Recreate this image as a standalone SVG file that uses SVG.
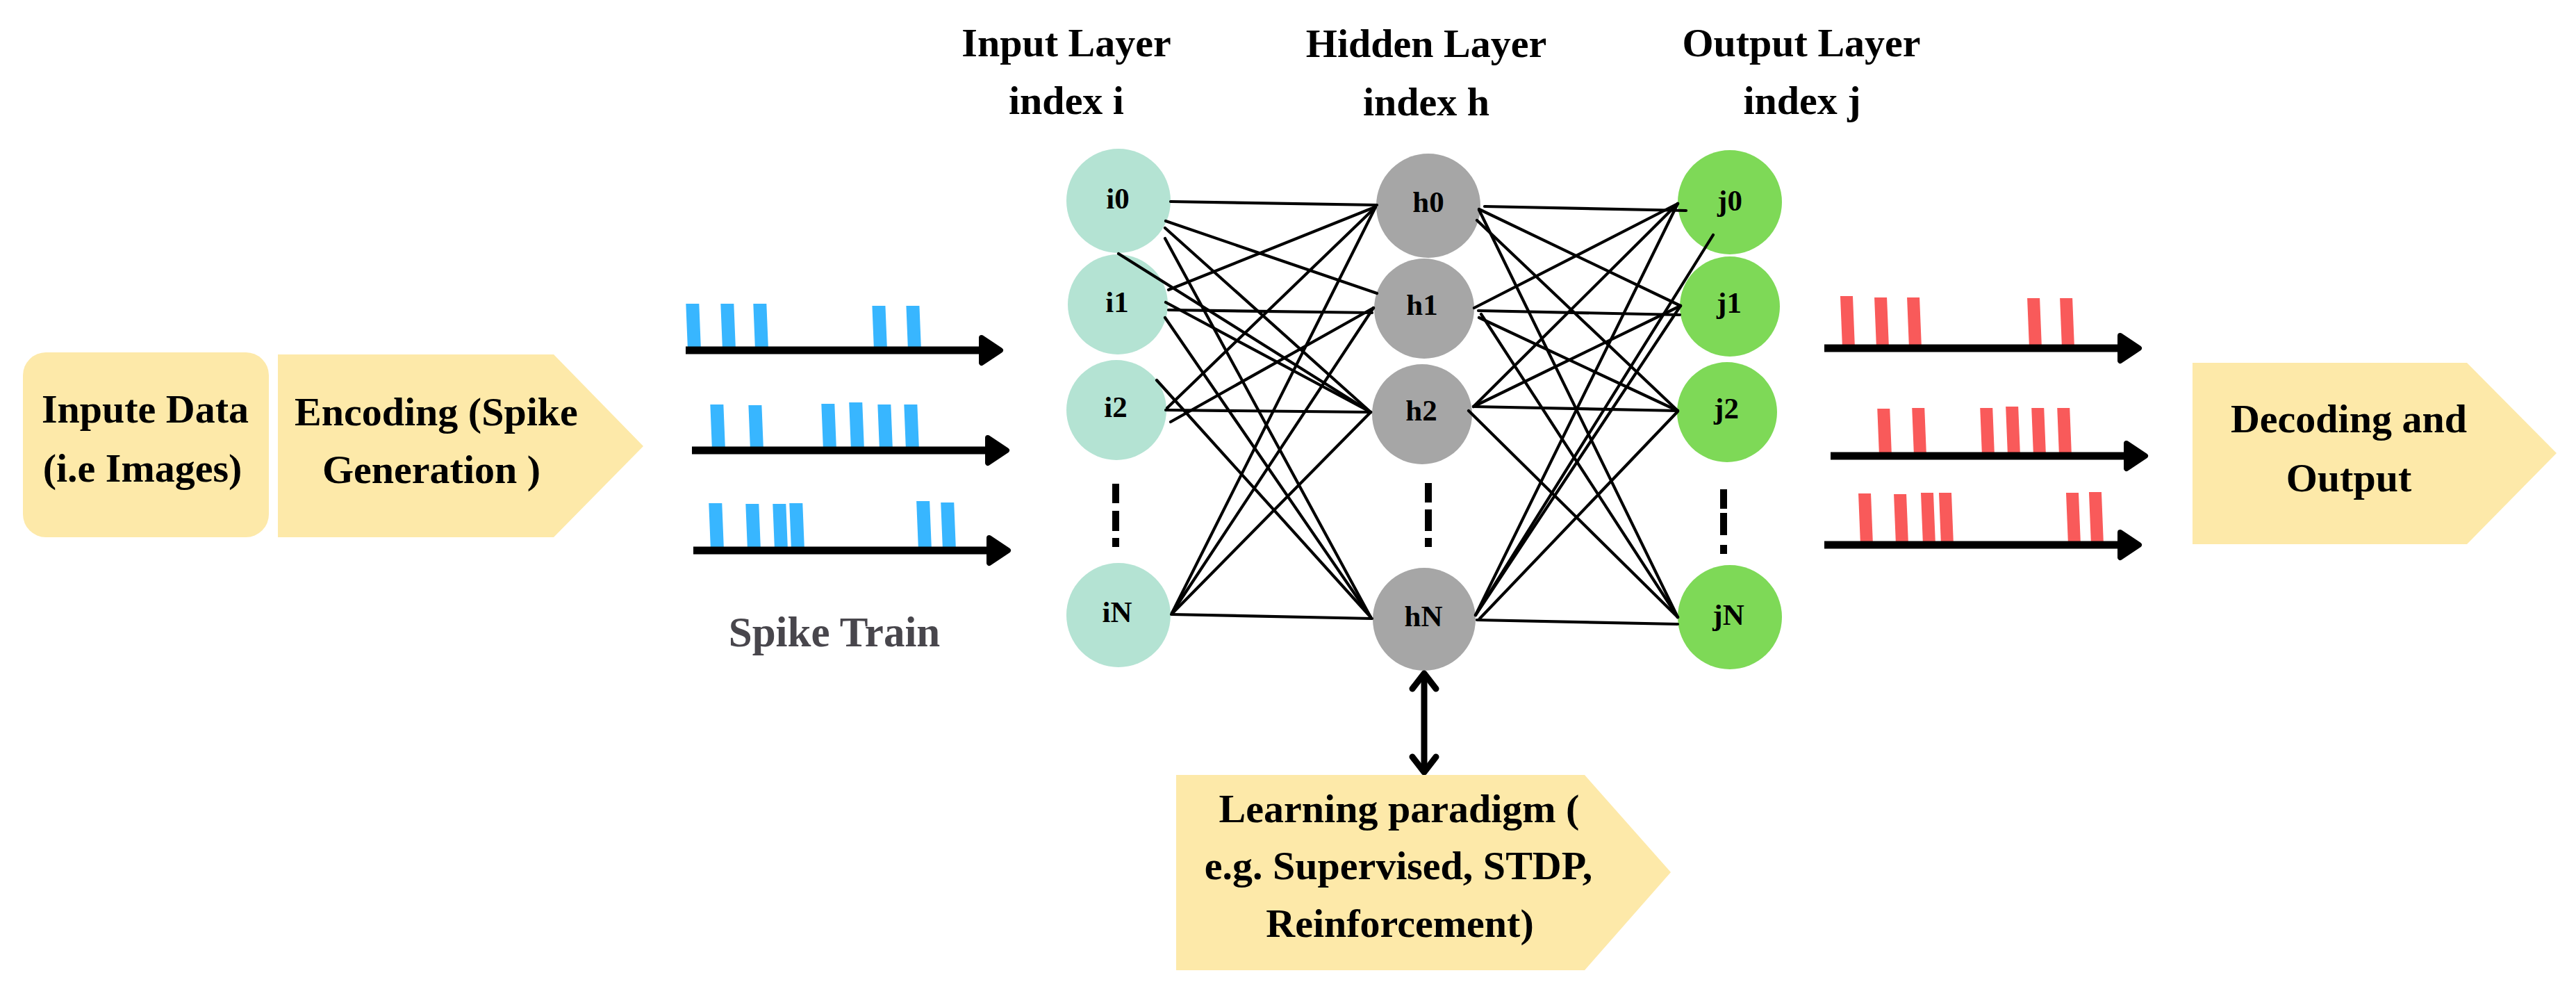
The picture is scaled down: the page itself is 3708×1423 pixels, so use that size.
<svg xmlns="http://www.w3.org/2000/svg" xmlns:xlink="http://www.w3.org/1999/xlink" width="3708" height="1423" viewBox="0 0 3708 1423">
<style>
.t{font-family:"Liberation Serif","Times New Roman",serif;font-weight:bold;fill:#000}
.big{font-size:58px}
.lbl{font-size:43px;text-anchor:middle}
.mid{text-anchor:middle}
.box{fill:#fde9a9}
.ci{fill:#b4e3d3}
.ch{fill:#a6a6a6}
.cj{fill:#7ed957}
.axis{stroke:#000;stroke-width:11;fill:none}
.blue{fill:#38b6ff}
.red{fill:#f95a5a}
.conn line{stroke:#000;stroke-width:4.2;stroke-linecap:round}
.dots{fill:#000}
</style>
<defs>
<path id="ahead" d="M0,-18 L27,0 L0,18 Z" fill="#000" stroke="#000" stroke-width="8" stroke-linejoin="round"/>
</defs>
<rect width="3708" height="1423" fill="#fff"/>

<g id="input-data">
<rect class="box" x="33" y="507" width="354" height="266" rx="33"/>
<text class="t big mid" x="209" y="608">Inpute Data</text>
<text class="t big mid" x="205" y="693">(i.e Images)</text>
</g>

<g id="encoding">
<polygon class="box" points="400,510 797,510 926,642 797,773 400,773"/>
<text class="t big" x="424" y="612">Encoding (Spike</text>
<text class="t big" x="464" y="695">Generation )</text>
</g>

<g id="spike-train-in">
<g transform="translate(0,504) skewX(2.3)" class="blue">
<rect x="990" y="-67" width="19" height="67"/><rect x="1040" y="-67" width="19" height="67"/><rect x="1087" y="-67" width="19" height="67"/><rect x="1258" y="-64" width="19" height="64"/><rect x="1307" y="-64" width="19" height="64"/>
</g>
<g transform="translate(0,648) skewX(2.3)" class="blue">
<rect x="1025" y="-66" width="19" height="66"/><rect x="1080" y="-65" width="19" height="65"/><rect x="1185" y="-67" width="19" height="67"/><rect x="1225" y="-69" width="19" height="69"/><rect x="1266" y="-66" width="19" height="66"/><rect x="1304" y="-66" width="19" height="66"/>
</g>
<g transform="translate(0,792) skewX(2.3)" class="blue">
<rect x="1023" y="-68" width="19" height="68"/><rect x="1076" y="-67" width="19" height="67"/><rect x="1115" y="-67" width="19" height="67"/><rect x="1139" y="-68" width="19" height="68"/><rect x="1322" y="-71" width="19" height="71"/><rect x="1357" y="-69" width="19" height="69"/>
</g>
<path class="axis" d="M987,504 H1415 M996,648 H1424 M998,792 H1426"/>
<use xlink:href="#ahead" x="1413" y="504"/>
<use xlink:href="#ahead" x="1422" y="648"/>
<use xlink:href="#ahead" x="1424" y="792"/>
<text class="t mid" x="1201" y="930" style="font-size:61px;fill:#48464c">Spike Train</text>
</g>

<g id="titles">
<text class="t big mid" x="1535" y="81">Input Layer</text>
<text class="t big mid" x="1535" y="164">index i</text>
<text class="t big mid" x="2053" y="82">Hidden Layer</text>
<text class="t big mid" x="2053" y="166">index h</text>
<text class="t big mid" x="2593" y="81">Output Layer</text>
<text class="t big mid" x="2594" y="164">index j</text>
</g>

<g id="node-i0"><circle class="ci" cx="1610" cy="289" r="75"/><text class="t lbl" x="1609" y="300">i0</text></g>
<g id="node-i1"><circle class="ci" cx="1609" cy="438" r="72"/><text class="t lbl" x="1608" y="449">i1</text></g>
<g id="node-i2"><circle class="ci" cx="1607" cy="590" r="72"/><text class="t lbl" x="1606" y="600">i2</text></g>
<g id="node-iN"><circle class="ci" cx="1610" cy="885" r="75"/><text class="t lbl" x="1608" y="895">iN</text></g>

<g id="node-h0"><circle class="ch" cx="2056" cy="296" r="75"/><text class="t lbl" x="2056" y="305">h0</text></g>
<g id="node-h1"><circle class="ch" cx="2050" cy="444" r="72"/><text class="t lbl" x="2047" y="453">h1</text></g>
<g id="node-h2"><circle class="ch" cx="2047" cy="596" r="72"/><text class="t lbl" x="2046" y="605">h2</text></g>
<g id="node-hN"><circle class="ch" cx="2050" cy="891" r="74"/><text class="t lbl" x="2049" y="901">hN</text></g>

<g id="node-j0"><circle class="cj" cx="2490" cy="291" r="75"/><text class="t lbl" x="2490" y="303">j0</text></g>
<g id="node-j1"><circle class="cj" cx="2490" cy="441" r="72"/><text class="t lbl" x="2489" y="450">j1</text></g>
<g id="node-j2"><circle class="cj" cx="2486" cy="593" r="72"/><text class="t lbl" x="2485" y="602">j2</text></g>
<g id="node-jN"><circle class="cj" cx="2490" cy="888" r="75"/><text class="t lbl" x="2488" y="899">jN</text></g>

<g id="ellipsis" class="dots">
<rect x="1601" y="696" width="10" height="28"/><rect x="1601" y="735" width="10" height="29"/><rect x="1601" y="774" width="10" height="13"/>
<rect x="2051" y="695" width="10" height="28"/><rect x="2051" y="733" width="10" height="31"/><rect x="2051" y="774" width="10" height="13"/>
<rect x="2476" y="704" width="10" height="28"/><rect x="2476" y="738" width="10" height="32"/><rect x="2476" y="784" width="10" height="13"/>
</g>

<g id="connectors" class="conn">
<line x1="1685" y1="290" x2="1982" y2="295"/>
<line x1="1678" y1="318" x2="1982" y2="422"/>
<line x1="1677" y1="328" x2="1973" y2="593"/>
<line x1="1677" y1="343" x2="1973" y2="888"/>
<line x1="1610" y1="365" x2="1973" y2="593"/>
<line x1="1682" y1="417" x2="1979" y2="298"/>
<line x1="1682" y1="446" x2="1975" y2="450"/>
<line x1="1678" y1="435" x2="1973" y2="593"/>
<line x1="1677" y1="457" x2="1973" y2="888"/>
<line x1="1680" y1="587" x2="1980" y2="298"/>
<line x1="1685" y1="607" x2="1977" y2="443"/>
<line x1="1678" y1="590" x2="1973" y2="593"/>
<line x1="1665" y1="547" x2="1973" y2="888"/>
<line x1="1687" y1="882" x2="1980" y2="298"/>
<line x1="1687" y1="882" x2="1977" y2="443"/>
<line x1="1688" y1="882" x2="1973" y2="593"/>
<line x1="1686" y1="884" x2="1975" y2="890"/>

<line x1="2137" y1="297" x2="2427" y2="303"/>
<line x1="2129" y1="301" x2="2419" y2="440"/>
<line x1="2126" y1="317" x2="2415" y2="591"/>
<line x1="2129" y1="302" x2="2415" y2="888"/>
<line x1="2122" y1="443" x2="2415" y2="293"/>
<line x1="2128" y1="447" x2="2418" y2="453"/>
<line x1="2129" y1="457" x2="2415" y2="591"/>
<line x1="2132" y1="452" x2="2415" y2="888"/>
<line x1="2121" y1="585" x2="2415" y2="293"/>
<line x1="2121" y1="585" x2="2419" y2="440"/>
<line x1="2121" y1="585" x2="2415" y2="591"/>
<line x1="2114" y1="591" x2="2415" y2="888"/>
<line x1="2124" y1="885" x2="2415" y2="293"/>
<line x1="2124" y1="885" x2="2419" y2="440"/>
<line x1="2130" y1="890" x2="2415" y2="592"/>
<line x1="2126" y1="892" x2="2415" y2="898"/>
<line x1="2466" y1="338" x2="2124" y2="885"/>
</g>

<g id="learning-arrow" fill="none" stroke="#000" stroke-width="9" stroke-linecap="round" stroke-linejoin="round">
<line x1="2050" y1="970" x2="2050" y2="1110"/>
<polyline points="2033,991 2050,969 2067,991"/>
<polyline points="2033,1089 2050,1111 2067,1089"/>
</g>

<g id="learning">
<polygon class="box" points="1693,1115 2281,1115 2405,1255 2281,1396 1693,1396"/>
<text class="t big mid" x="2014" y="1183">Learning paradigm (</text>
<text class="t big mid" x="2013" y="1265">e.g. Supervised, STDP,</text>
<text class="t big mid" x="2015" y="1348">Reinforcement)</text>
</g>

<g id="spike-train-out">
<g transform="translate(0,501) skewX(2.3)" class="red">
<rect x="2652" y="-75" width="18" height="75"/><rect x="2701" y="-73" width="18" height="73"/><rect x="2748" y="-73" width="18" height="73"/><rect x="2921" y="-72" width="18" height="72"/><rect x="2968" y="-72" width="18" height="72"/>
</g>
<g transform="translate(0,656) skewX(2.3)" class="red">
<rect x="2705" y="-68" width="18" height="68"/><rect x="2755" y="-69" width="18" height="69"/><rect x="2853" y="-69" width="18" height="69"/><rect x="2890" y="-71" width="18" height="71"/><rect x="2927" y="-69" width="18" height="69"/><rect x="2964" y="-69" width="18" height="69"/>
</g>
<g transform="translate(0,784) skewX(2.3)" class="red">
<rect x="2678" y="-74" width="18" height="74"/><rect x="2729" y="-73" width="18" height="73"/><rect x="2768" y="-75" width="18" height="75"/><rect x="2794" y="-75" width="18" height="75"/><rect x="2977" y="-75" width="18" height="75"/><rect x="3010" y="-76" width="18" height="76"/>
</g>
<path class="axis" d="M2626,501 H3055 M2635,656 H3064 M2626,784 H3055"/>
<use xlink:href="#ahead" x="3052" y="501"/>
<use xlink:href="#ahead" x="3061" y="656"/>
<use xlink:href="#ahead" x="3052" y="784"/>
</g>

<g id="decoding">
<polygon class="box" points="3156,522 3551,522 3680,652 3551,783 3156,783"/>
<text class="t big mid" x="3381" y="622">Decoding and</text>
<text class="t big mid" x="3381" y="707">Output</text>
</g>
</svg>
